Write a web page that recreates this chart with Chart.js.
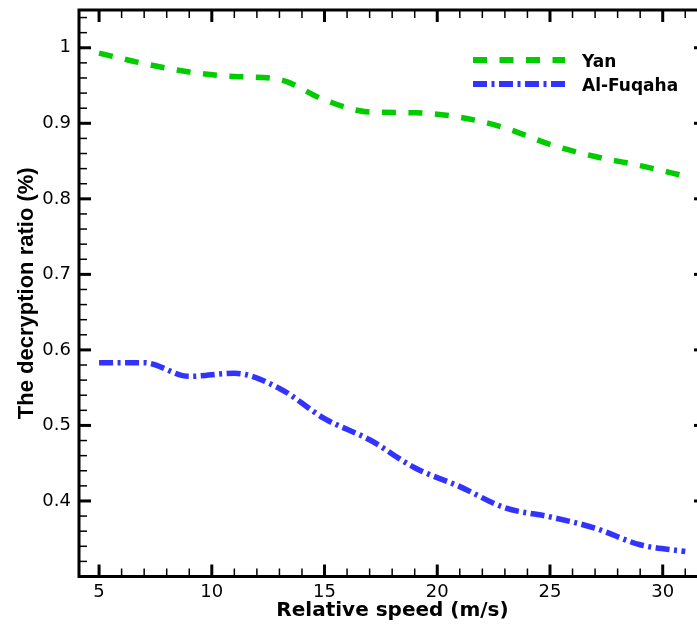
<!DOCTYPE html>
<html>
<head>
<meta charset="utf-8">
<script src="https://cdn.jsdelivr.net/npm/chart.js@4"></script>
<style>
  html, body { margin: 0; padding: 0; background: #fff; overflow: hidden; }
  #wrap { width: 710px; height: 625px; }
</style>
</head>
<body>
<div id="wrap"><canvas id="chart" width="710" height="625"></canvas></div>
<script>
// values
const speeds = [5, 7, 9, 11, 13, 15, 17, 19, 21, 23, 25, 27, 29, 31];
const yanRatio = [0.993, 0.979, 0.968, 0.962, 0.958, 0.931, 0.915, 0.914, 0.908, 0.894, 0.872, 0.856, 0.844, 0.830];
const alFuqahaRatio = [0.583, 0.583, 0.565, 0.569, 0.549, 0.509, 0.481, 0.444, 0.419, 0.391, 0.379, 0.364, 0.342, 0.333];
const seriesNames = ['Yan', 'Al-Fuqaha'];
const xTickValues = [5, 10, 15, 20, 25, 30];
const yTickValues = [0.4, 0.5, 0.6, 0.7, 0.8, 0.9, 1];

const toPoints = (vals) => vals.map((v, i) => ({ x: speeds[i], y: v }));

// box with inward ticks on all four sides, plus the legend
const framePlugin = {
  id: 'frame',
  afterDraw(chart) {
    const { ctx, chartArea: a, scales: { x, y } } = chart;
    ctx.save();
    ctx.strokeStyle = '#000';
    ctx.setLineDash([]);
    ctx.lineWidth = 3;
    ctx.strokeRect(a.left, a.top, a.right - a.left, a.bottom - a.top);

    const seg = (x1, y1, x2, y2) => {
      ctx.beginPath();
      ctx.moveTo(x1, y1);
      ctx.lineTo(x2, y2);
      ctx.stroke();
    };

    for (let v = Math.ceil(x.min); v <= x.max; v++) {
      const px = x.getPixelForValue(v);
      const major = v % 5 === 0;
      const len = major ? 12 : 8;
      ctx.lineWidth = major ? 3 : 1.5;
      seg(px, a.bottom, px, a.bottom - len);
      seg(px, a.top, px, a.top + len);
    }
    for (let i = Math.ceil(y.min * 50 + 1e-6); i / 50 <= y.max + 1e-9; i++) {
      const py = y.getPixelForValue(i / 50);
      const major = i % 5 === 0;
      const len = major ? 12 : 8;
      ctx.lineWidth = major ? 3 : 1.5;
      seg(a.left, py, a.left + len, py);
      seg(a.right, py, a.right - len, py);
    }

    // legend
    const rows = [60, 84];
    chart.data.datasets.forEach((ds, i) => {
      ctx.strokeStyle = ds.borderColor;
      ctx.lineWidth = 6;
      ctx.setLineDash(ds.borderDash);
      seg(473, rows[i], 565, rows[i]);
      ctx.setLineDash([]);
      ctx.fillStyle = '#000';
      ctx.font = 'bold 17px "DejaVu Sans"';
      ctx.textBaseline = 'alphabetic';
      ctx.textAlign = 'left';
      ctx.fillText(ds.label, 582, rows[i] + 7);
    });
    ctx.restore();
  }
};

new Chart(document.getElementById('chart'), {
  type: 'line',
  data: {
    datasets: [
      {
        label: seriesNames[0],
        data: toPoints(yanRatio),
        borderColor: '#00cc00',
        borderWidth: 5.5,
        borderDash: [14, 12.5],
        pointRadius: 0,
        cubicInterpolationMode: 'monotone',
        fill: false,
      },
      {
        label: seriesNames[1],
        data: toPoints(alFuqahaRatio),
        borderColor: '#3333ff',
        borderWidth: 5.5,
        borderDash: [14, 4.5, 3, 4.5],
        pointRadius: 0,
        cubicInterpolationMode: 'monotone',
        fill: false,
      }
    ],
  },
  options: {
    responsive: false,
    animation: false,
    devicePixelRatio: 1,
    layout: { padding: { left: 0, top: 10, right: 4, bottom: 0 } },
    plugins: {
      legend: { display: false },
      tooltip: { enabled: false },
    },
    scales: {
      x: {
        type: 'linear',
        min: 4.11,
        max: 31.92,
        afterBuildTicks: (scale) => { scale.ticks = xTickValues.map(v => ({ value: v })); },
        afterFit: (scale) => {
          scale.height = 48.5;
          scale.paddingLeft = 0;
          scale.paddingRight = 0;
        },
        grid: { display: false, drawTicks: false },
        border: { display: false },
        ticks: {
          color: '#000',
          padding: 5,
          maxRotation: 0,
          font: { family: '"DejaVu Sans"', size: 18 },
        },
        title: {
          display: true,
          text: 'Relative speed (m/s)',
          color: '#000',
          font: { family: '"DejaVu Sans"', size: 20, weight: 'bold', lineHeight: 1.2 },
          padding: { top: 0, bottom: 2 },
        },
      },
      y: {
        min: 0.3,
        max: 1.05,
        afterBuildTicks: (scale) => { scale.ticks = yTickValues.map(v => ({ value: v })); },
        afterFit: (scale) => {
          scale.width = 79;
          scale.paddingTop = 0;
          scale.paddingBottom = 0;
        },
        grid: { display: false, drawTicks: false },
        border: { display: false },
        ticks: {
          color: '#000',
          padding: 8,
          font: { family: '"DejaVu Sans"', size: 18 },
          callback: (v) => String(v),
        },
        title: {
          display: true,
          text: 'The decryption ratio (%)',
          color: '#000',
          font: { family: '"Liberation Sans"', size: 22, weight: 'bold', lineHeight: 1.2 },
          padding: { top: 14, bottom: 0 },
        },
      },
    },
  },
  plugins: [framePlugin],
});
</script>
</body>
</html>
